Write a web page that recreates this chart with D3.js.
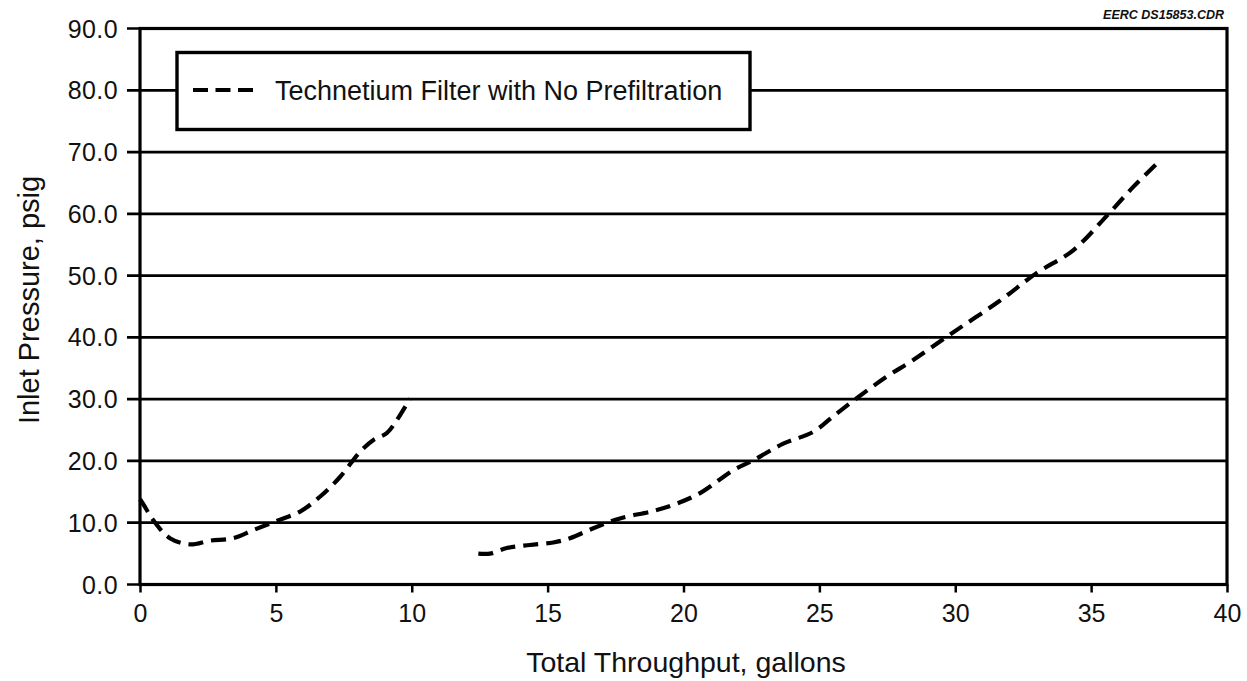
<!DOCTYPE html>
<html>
<head>
<meta charset="utf-8">
<script src="https://cdn.jsdelivr.net/npm/d3@7"></script>
<style>
  html, body { margin: 0; padding: 0; background: #fff; }
  svg { display: block; font-family: "Liberation Sans", Arial, Helvetica, sans-serif; }
</style>
</head>
<body>
<svg id="chart" width="1247" height="681"></svg>
<script>
// ---- data ----
const xTicks = [0, 5, 10, 15, 20, 25, 30, 35, 40];
const yTicks = [0, 10, 20, 30, 40, 50, 60, 70, 80, 90];
const seriesName = "Technetium Filter with No Prefiltration";
// first run segment
const run1X = [0.0, 0.12, 0.49, 1.1, 1.84, 2.58, 3.43, 4.17, 5.03, 5.89, 6.62, 7.36, 8.1, 8.59, 9.08, 9.45, 9.94];
const run1Y = [13.8, 13.0, 10.4, 7.5, 6.5, 7.1, 7.5, 8.8, 10.3, 11.8, 14.2, 17.4, 21.5, 23.4, 24.5, 26.6, 30.1];
// second run segment
const run2X = [12.45, 12.88, 13.5, 14.35, 15.21, 15.82, 16.68, 17.66, 18.89, 19.75, 20.61, 21.83, 22.57, 23.67, 24.77, 25.5, 26.36, 27.46, 28.44, 29.85, 31.6, 32.99, 34.34, 35.6, 36.56, 37.48];
const run2Y = [5.0, 5.0, 5.9, 6.4, 6.8, 7.5, 9.1, 10.7, 11.9, 13.1, 14.8, 18.5, 20.1, 22.8, 24.7, 27.2, 30.1, 33.6, 36.3, 40.6, 45.8, 50.4, 54.1, 59.8, 64.4, 68.4];

// ---- layout ----
const svg = d3.select("#chart");
const mLeft = 140, mRight = 1227, mTop = 28.5, mBottom = 584.5;
const x = d3.scaleLinear().domain([0, 40]).range([mLeft, mRight]);
const y = d3.scaleLinear().domain([0, 90]).range([mBottom, mTop]);

// gridlines
svg.append("g").selectAll("line").data(yTicks).join("line")
  .attr("x1", mLeft - 13).attr("x2", mRight)
  .attr("y1", d => y(d)).attr("y2", d => y(d))
  .attr("stroke", "#000").attr("stroke-width", 2.7);

// y tick labels
svg.append("g").selectAll("text").data(yTicks).join("text")
  .attr("x", 118).attr("y", d => y(d)).attr("dy", "0.36em")
  .attr("text-anchor", "end").attr("font-size", 25).attr("letter-spacing", 0.4).attr("fill", "#111")
  .text(d => d.toFixed(1));

// x axis ticks
const xAxis = d3.axisBottom(x).tickValues(xTicks).tickSize(8).tickPadding(12).tickFormat(d3.format("d"));
const gx = svg.append("g").attr("transform", `translate(0,${mBottom})`).call(xAxis);
gx.select(".domain").remove();
gx.selectAll(".tick line").attr("stroke", "#000").attr("stroke-width", 2.5);
gx.selectAll(".tick text").attr("font-size", 25).attr("fill", "#111")
  .attr("font-family", "'Liberation Sans', Arial, sans-serif");

// frame
svg.append("rect").attr("x", mLeft).attr("y", mTop).attr("width", mRight - mLeft).attr("height", mBottom - mTop)
  .attr("fill", "none").attr("stroke", "#000").attr("stroke-width", 3.2);

// lines
const line = d3.line().x(d => x(d[0])).y(d => y(d[1])).curve(d3.curveCatmullRom.alpha(0.5));
const runs = [d3.zip(run1X, run1Y), d3.zip(run2X, run2Y)];
svg.append("g").selectAll("path").data(runs).join("path")
  .attr("d", line).attr("fill", "none").attr("stroke", "#000")
  .attr("stroke-width", 4.2).attr("stroke-dasharray", "15,8");

// legend
const lg = svg.append("g");
lg.append("rect").attr("x", 177).attr("y", 52.5).attr("width", 573).attr("height", 77)
  .attr("fill", "#fff").attr("stroke", "#000").attr("stroke-width", 3.4);
lg.append("line").attr("x1", 193).attr("x2", 253).attr("y1", 90).attr("y2", 90)
  .attr("stroke", "#000").attr("stroke-width", 4.2).attr("stroke-dasharray", "15,7.5");
lg.append("text").attr("x", 275).attr("y", 90).attr("dy", "0.36em")
  .attr("font-size", 27).attr("fill", "#111").text(seriesName);

// axis titles
svg.append("text").attr("x", 686).attr("y", 672)
  .attr("text-anchor", "middle").attr("font-size", 28.5).attr("fill", "#111")
  .text("Total Throughput, gallons");
svg.append("text").attr("transform", "translate(39,300) rotate(-90)")
  .attr("text-anchor", "middle").attr("font-size", 29).attr("fill", "#111")
  .text("Inlet Pressure, psig");

// file tag
svg.append("text").attr("x", 1224).attr("y", 19).attr("text-anchor", "end")
  .attr("font-size", 12.5).attr("font-style", "italic").attr("font-weight", "bold").attr("fill", "#111")
  .text("EERC DS15853.CDR");
</script>
</body>
</html>
